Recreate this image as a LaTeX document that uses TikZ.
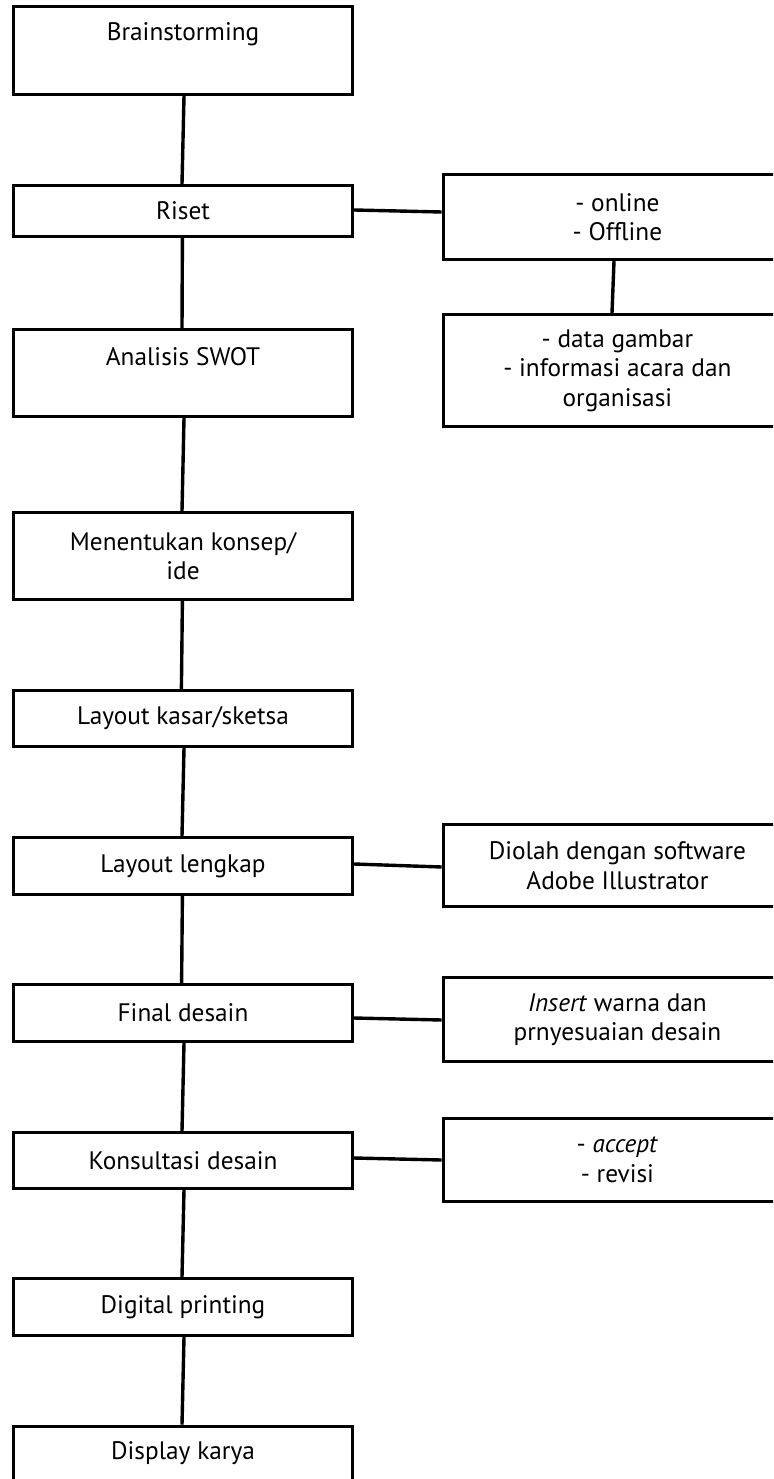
\documentclass[tikz,border=0pt]{standalone}
\usepackage{fontspec}
\setmainfont{PT Sans}
\begin{document}
\begin{tikzpicture}[x=1pt,y=-1pt,
  box/.style={draw=black,line width=3.4pt,rectangle,inner sep=0pt,fill=white},
  lbox/.style={box,minimum width=339pt},
  rbox/.style={box,minimum width=348pt},
  txt/.style={font=\fontsize{25.3}{29.5}\selectfont,align=center,inner sep=0pt},
  conn/.style={line width=3.4pt}]
\useasboundingbox (0,0) rectangle (773,1479);
\clip (0,0) rectangle (773,1479);
\fill[white] (0,0) rectangle (773,1479);
% left column
\node[lbox,minimum height=88pt] (brain) at (183,50.5) {};
\node[txt] (brainT) at (183,34) {Brainstorming};
\node[lbox,minimum height=51pt,txt] (riset) at (183,211) {Riset};
\node[lbox,minimum height=87pt] (swot) at (183,373) {};
\node[txt] (swotT) at (183,357) {Analisis SWOT};
\node[lbox,minimum height=87pt,txt] (konsep) at (183,556) {Menentukan konsep/\\ide};
\node[lbox,minimum height=56pt,txt] (kasar) at (183,718.5) {Layout kasar/sketsa};
\node[lbox,minimum height=57pt,txt] (lengkap) at (183,866) {Layout lengkap};
\node[lbox,minimum height=57pt,txt] (final) at (183,1013) {Final desain};
\node[lbox,minimum height=56pt,txt] (konsul) at (183,1160.5) {Konsultasi desain};
\node[lbox,minimum height=57pt,txt] (digital) at (183,1307) {Digital printing};
\node[lbox,minimum height=100pt] (display) at (183,1476.4) {};
\node[txt] (displayT) at (183,1453) {Display karya};
% right column
\node[rbox,minimum height=85pt,txt] (online) at (617.4,217) {- online\\- Offline};
\node[rbox,minimum height=112pt,txt] (data) at (617.4,370.5) {- data gambar\\- informasi acara dan\\organisasi};
\node[rbox,minimum height=82pt,txt] (diolah) at (617.4,865.5) {Diolah dengan software\\Adobe Illustrator};
\node[rbox,minimum height=84pt,txt] (insert) at (617.4,1019.5) {\textit{Insert} warna dan\\prnyesuaian desain};
\node[rbox,minimum height=83pt,txt] (accept) at (617.4,1160) {- \textit{accept}\\- revisi};
% vertical connectors
\draw[conn] ([xshift=1pt]brain.south) -- ([xshift=-1pt]riset.north);
\draw[conn] ([xshift=-0.6pt]riset.south) -- ([xshift=-1pt]swot.north);
\draw[conn] ([xshift=1pt]swot.south) -- ([xshift=-1pt]konsep.north);
\draw[conn] ([xshift=-0.6pt]konsep.south) -- ([xshift=-1.6pt]kasar.north);
\draw[conn] ([xshift=1pt]kasar.south) -- ([xshift=-1pt]lengkap.north);
\draw[conn] ([xshift=-0.6pt]lengkap.south) -- ([xshift=-1.4pt]final.north);
\draw[conn] ([xshift=1pt]final.south) -- ([xshift=-1pt]konsul.north);
\draw[conn] ([xshift=1pt]konsul.south) -- ([xshift=-1pt]digital.north);
\draw[conn] ([xshift=1pt]digital.south) -- ([xshift=-1pt]display.north);
% horizontal connectors
\draw[conn] ([yshift=1pt]riset.east) -- ([yshift=5pt]online.west);
\draw[conn] ([xshift=-3.4pt]online.south) -- ([xshift=-5.4pt]data.north);
\draw[conn] ([yshift=2pt]lengkap.east) -- ([yshift=-1.5pt]diolah.west);
\draw[conn] ([yshift=-5pt]final.east) -- ([yshift=-0.5pt]insert.west);
\draw[conn] ([yshift=2.5pt]konsul.east) -- ([yshift=0pt]accept.west);
\end{tikzpicture}
\end{document}
